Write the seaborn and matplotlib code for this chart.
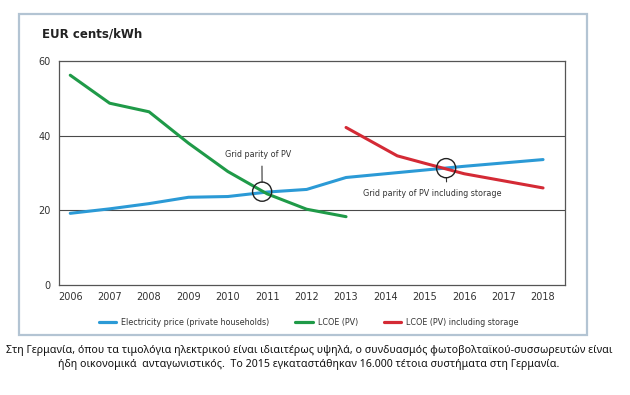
import pandas as pd
import seaborn as sns
import matplotlib.pyplot as plt
from matplotlib.lines import Line2D
from matplotlib.patches import Rectangle


# values
elec_years = [2006, 2007, 2008, 2009, 2010, 2011, 2012, 2013, 2014, 2015, 2016, 2017, 2018]
elec_price = [19.2, 20.4, 21.8, 23.5, 23.7, 24.9, 25.6, 28.8, 29.8, 30.8, 31.8, 32.7, 33.6]

pv_years = [2006, 2007, 2008, 2009, 2010, 2011, 2012, 2013]
pv_lcoe = [56.2, 48.7, 46.4, 38.0, 30.4, 24.4, 20.3, 18.3]

storage_years = [2013, 2014.3, 2015, 2016, 2017, 2018]
storage_lcoe = [42.2, 34.6, 32.6, 29.8, 27.9, 26.0]

parity_x = [2010.87, 2015.54]
parity_y = [25.0, 31.3]
parity_labels = ['Grid parity of PV', 'Grid parity of PV including storage']

series_names = ['Electricity price (private households)', 'LCOE (PV)', 'LCOE (PV) including storage']
colors = ['#2b9ad6', '#1f9a48', '#d42a35']
year_ticks = list(range(2006, 2019))
y_ticks = [0, 20, 40, 60]

caption = ('Στη Γερμανία, όπου τα τιμολόγια ηλεκτρικού είναι ιδιαιτέρως υψηλά, ο συνδυασμός φωτοβολταϊκού-συσσωρευτών είναι\n'
           'ήδη οικονομικά  ανταγωνιστικός.  Το 2015 εγκαταστάθηκαν 16.000 τέτοια συστήματα στη Γερμανία.')

df = pd.concat([
    pd.DataFrame({'year': elec_years, 'value': elec_price, 'series': series_names[0]}),
    pd.DataFrame({'year': pv_years, 'value': pv_lcoe, 'series': series_names[1]}),
    pd.DataFrame({'year': storage_years, 'value': storage_lcoe, 'series': series_names[2]}),
])

sns.set_style('white')
plt.rcParams['font.family'] = ['DejaVu Sans']

fig = plt.figure(figsize=(6.3, 3.95), dpi=100)
ax = fig.add_axes([0.094, 0.2785, 0.803, 0.567])

# outer frame around chart + legend
fig.patches.append(Rectangle((0.030, 0.152), 0.902, 0.813, transform=fig.transFigure,
                             fill=False, edgecolor='#b3c4d3', linewidth=1.6))

for y in [20, 40]:
    ax.axhline(y, color='#4a4a4a', linewidth=0.8, zorder=1)

sns.lineplot(data=df, x='year', y='value', hue='series', palette=dict(zip(series_names, colors)),
             linewidth=2.2, ax=ax, legend=False, zorder=3)

ax.scatter(parity_x, parity_y, s=190, facecolors='none', edgecolors='#222222', linewidths=1.0, zorder=4)

ax.annotate(parity_labels[0], xy=(parity_x[0], parity_y[0]), xytext=(-3, 27), textcoords='offset points',
            ha='center', va='center', fontsize=5.8, color='#333333',
            arrowprops=dict(arrowstyle='-', color='#333333', lw=0.8, shrinkA=3, shrinkB=6.8, relpos=(0.56, 0)))
ax.annotate(parity_labels[1], xy=(parity_x[1], parity_y[1]), xytext=(-10, -18.5), textcoords='offset points',
            ha='center', va='center', fontsize=5.8, color='#333333',
            arrowprops=dict(arrowstyle='-', color='#333333', lw=0.8, shrinkA=3, shrinkB=6.8, relpos=(0.605, 1)))

ax.set_xlim(2005.72, 2018.56)
ax.set_ylim(0, 60)
ax.set_xticks(year_ticks)
ax.set_yticks(y_ticks)
ax.set_xlabel('')
ax.set_ylabel('')
ax.tick_params(axis='x', direction='in', length=5, width=0.8, color='#444444', labelsize=7,
               labelcolor='#333333', pad=5)
ax.tick_params(axis='y', length=0, labelsize=7, labelcolor='#333333', pad=6)
for s in ax.spines.values():
    s.set_color('#555555')
    s.set_linewidth(0.9)

fig.text(0.067, 0.913, 'EUR cents/kWh', fontsize=8.5, fontweight='bold', color='#222222', va='center')

handles = [Line2D([], [], color=c, linewidth=2.3) for c in colors]
fig.legend(handles, series_names, loc='center', bbox_to_anchor=(0.49, 0.183), ncol=3, frameon=False,
           fontsize=5.8, handlelength=2.2, columnspacing=3.2, handletextpad=0.6, labelcolor='#333333')

fig.text(0.49, 0.095, caption, ha='center', va='center', fontsize=7.65, color='#111111',
         family=['Noto Sans', 'DejaVu Sans'], linespacing=1.35)

fig.savefig('out.png', dpi=100)
